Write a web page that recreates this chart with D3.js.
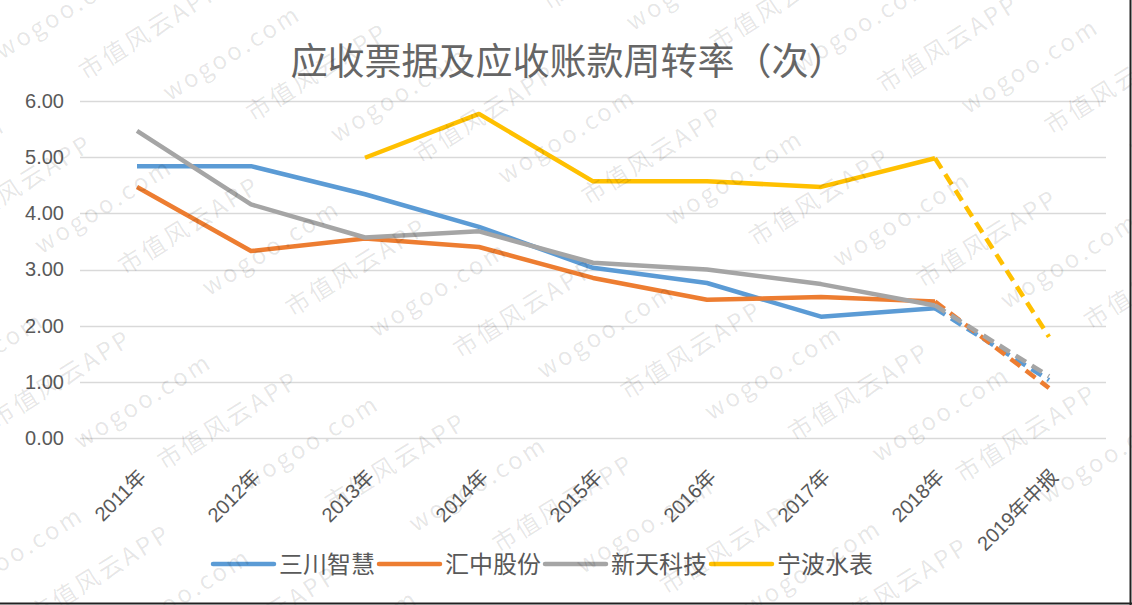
<!DOCTYPE html>
<html><head><meta charset="utf-8">
<script src="https://cdn.jsdelivr.net/npm/d3@7/dist/d3.min.js"></script>
<style>
html,body{margin:0;padding:0;background:#fff;}
svg{display:block;}
</style></head>
<body>
<svg id="chart" width="1132" height="605"></svg>
<script>
const categories = ['2011年','2012年','2013年','2014年','2015年','2016年','2017年','2018年','2019年中报'];
const seriesNames = ['三川智慧','汇中股份','新天科技','宁波水表'];
const sanchuan = [4.84, 4.84, 4.34, 3.76, 3.03, 2.76, 2.16, 2.31, 1.03];
const huizhong = [4.47, 3.33, 3.55, 3.40, 2.85, 2.46, 2.51, 2.43, 0.89];
const xintian  = [5.47, 4.16, 3.57, 3.68, 3.12, 3.00, 2.74, 2.36, 1.10];
const ningbo   = [null, null, 4.99, 5.77, 4.57, 4.57, 4.47, 4.98, 1.80];
const yTicks = [0, 1, 2, 3, 4, 5, 6];
const title = '应收票据及应收账款周转率（次）';
const colors = ['#5B9BD5', '#ED7D31', '#A5A5A5', '#FFC000'];
const allSeries = [sanchuan, huizhong, xintian, ningbo];

const svg = d3.select('#chart');
const W = 1132, H = 605;
const cjk = '"Noto Sans CJK SC", "Liberation Sans", sans-serif';
const num = '"Liberation Sans", "Noto Sans CJK SC", sans-serif';

const x = d3.scalePoint().domain(categories).range([80, 1106]).padding(0.5);
const y = d3.scaleLinear().domain([0, 6]).range([438, 101]);

// title
svg.append('text').attr('x', 568).attr('y', 75).attr('text-anchor', 'middle')
  .attr('font-family', cjk).attr('font-size', 37).attr('fill', '#666')
  .text(title);

// grid
const gridG = svg.append('g');
gridG.selectAll('line').data(yTicks).join('line')
  .attr('x1', 80).attr('x2', 1106)
  .attr('y1', d => Math.round(y(d)) + 0.5).attr('y2', d => Math.round(y(d)) + 0.5)
  .attr('stroke', '#d9d9d9').attr('stroke-width', 1.3);

// y axis labels
const yAxis = d3.axisLeft(y).tickValues(yTicks).tickFormat(d3.format('.2f')).tickSize(0).tickPadding(0);
const yg = svg.append('g').attr('transform', 'translate(64,0)').call(yAxis);
yg.select('.domain').remove();
yg.selectAll('text').attr('font-family', num).attr('font-size', 20).attr('fill', '#595959');

// x axis labels
const xAxis = d3.axisBottom(x).tickSize(0).tickPadding(0);
const xg = svg.append('g').attr('transform', 'translate(0,438)').call(xAxis);
xg.select('.domain').remove();
xg.selectAll('.tick text')
  .attr('font-family', num).attr('font-size', 20).attr('fill', '#595959')
  .attr('text-anchor', 'end').attr('dy', null).attr('y', 0)
  .attr('transform', 'translate(10,40) rotate(-45)');

// lines
const line = d3.line().defined(d => d.v != null).x(d => x(d.c)).y(d => y(d.v));
const linesG = svg.append('g');
allSeries.forEach((vals, i) => {
  const pts = vals.map((v, j) => ({c: categories[j], v}));
  const solid = pts.slice(0, 8);
  const dashed = pts.slice(7, 9);
  linesG.append('path').attr('d', line(solid)).attr('fill', 'none')
    .attr('stroke', colors[i]).attr('stroke-width', 4.5).attr('stroke-linejoin', 'round');
  linesG.append('path').attr('d', line(dashed)).attr('fill', 'none')
    .attr('stroke', colors[i]).attr('stroke-width', 4.5).attr('stroke-dasharray', '12,7');
});

// legend
const lg = svg.append('g');
let lx = 213;
seriesNames.forEach((n, i) => {
  lg.append('line').attr('x1', lx).attr('x2', lx + 61).attr('y1', 564).attr('y2', 564)
    .attr('stroke', colors[i]).attr('stroke-width', 4.5).attr('stroke-linecap', 'round');
  const t = lg.append('text').attr('x', lx + 66).attr('y', 573)
    .attr('font-family', cjk).attr('font-size', 24).attr('fill', '#595959').text(n);
  lx += 66 + t.node().getComputedTextLength() + 4;
});

// watermark
const wm = svg.append('g').attr('fill', '#000').attr('fill-opacity', 0.1)
  .attr('font-family', cjk).attr('font-size', 24).attr('letter-spacing', 3);
const wmTexts = ['市值风云APP', 'wogoo.com'];
for (let r = -6; r < 12; r++) {
  for (let c = -2; c < 8; c++) {
    const px = c * 250 + r * 60 - 40;
    const py = r * 62;
    wm.append('text').attr('transform', `rotate(-32) translate(${px},${py + 300})`)
      .text(wmTexts[(r + c + 100) % 2]);
  }
}

// border right/bottom
svg.append('line').attr('x1', 1130.5).attr('x2', 1130.5).attr('y1', 0).attr('y2', 605).attr('stroke', '#222').attr('stroke-width', 2);
svg.append('line').attr('x1', 0).attr('x2', 1132).attr('y1', 603.5).attr('y2', 603.5).attr('stroke', '#222').attr('stroke-width', 2);
</script>
</body></html>
